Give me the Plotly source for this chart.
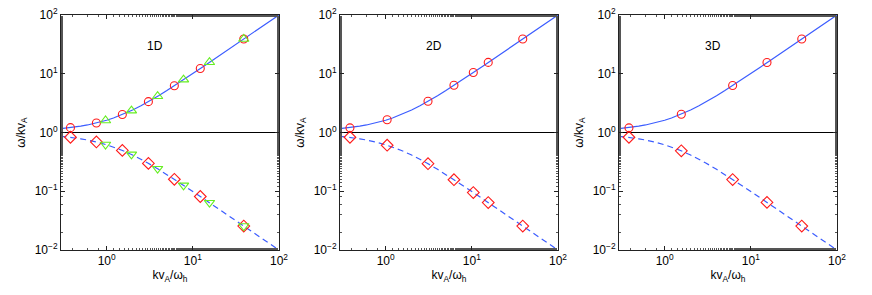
import plotly.graph_objects as go

# ---- data ----
line_x = [0.29, 0.35, 0.4, 0.5, 0.6, 0.7, 0.8, 1.0, 1.2, 1.5, 2, 2.5, 3, 4, 5, 6, 8, 10,
          13, 16, 20, 25, 30, 40, 50, 60, 80, 100]
line_upper = [1.156, 1.190, 1.220, 1.281, 1.344, 1.410, 1.477, 1.618, 1.766, 2.0, 2.414,
              2.851, 3.303, 4.236, 5.193, 6.162, 8.123, 10.10, 13.08, 16.06, 20.05, 25.04,
              30.03, 40.02, 50.02, 60.02, 80.01, 100.0]
line_lower = [0.865, 0.840, 0.820, 0.781, 0.744, 0.710, 0.677, 0.618, 0.566, 0.500, 0.414,
              0.351, 0.303, 0.236, 0.193, 0.162, 0.123, 0.0990, 0.0765, 0.0623, 0.0499,
              0.0399, 0.0333, 0.0250, 0.0200, 0.0167, 0.0125, 0.0100]

# 1D
d1_x = [0.38, 0.76, 1.52, 3.05, 6.1, 12.2, 39]
d1_up = [1.21, 1.45, 2.02, 3.35, 6.26, 12.3, 39.0]
d1_lo = [0.83, 0.69, 0.496, 0.298, 0.160, 0.0814, 0.0256]
t1_x = [0.97, 1.94, 3.9, 7.8, 15.6, 39]
t1_up = [1.60, 2.36, 4.14, 7.93, 15.7, 39.0]
t1_lo = [0.625, 0.424, 0.242, 0.126, 0.0639, 0.0256]

# 2D
d2_x = [0.385, 1.04, 3.1, 6.2, 10.4, 15.5, 39]
d2_up = [1.20, 1.65, 3.40, 6.36, 10.5, 15.6, 39.0]
d2_lo = [0.83, 0.607, 0.294, 0.157, 0.095, 0.0643, 0.0256]

# 3D
d3_x = [0.385, 1.56, 6.15, 15.4, 39]
d3_up = [1.20, 2.05, 6.31, 15.5, 39.0]
d3_lo = [0.83, 0.488, 0.158, 0.0646, 0.0256]

panel_labels = ["1D", "2D", "3D"]
x_tickvals = [1, 10, 100]
x_ticktext = ["10<sup>0</sup>", "10<sup>1</sup>", "10<sup>2</sup>"]
y_tickvals = [0.01, 0.1, 1, 10, 100]
y_ticktext = ["10<sup>−2</sup>", "10<sup>−1</sup>", "10<sup>0</sup>", "10<sup>1</sup>", "10<sup>2</sup>"]
x_min, x_max = 0.295, 100
ref_y = [1, 1]

BLUE = "#3b5cff"
RED = "#ff1a1a"
GREEN = "#66ee22"
FONT = "Liberation Sans, Arial, sans-serif"

W, H = 872, 295

fig = go.Figure()

panels = [
    (d1_x, d1_up, d1_lo, t1_x, t1_up, t1_lo),
    (d2_x, d2_up, d2_lo, None, None, None),
    (d3_x, d3_up, d3_lo, None, None, None),
]
domains = [[61/W, 279/W], [340/W, 558/W], [619/W, 837/W]]

for i, (cx, cu, cl, tx, tu, tl) in enumerate(panels):
    xa = "x" if i == 0 else f"x{i+1}"
    ya = "y" if i == 0 else f"y{i+1}"
    fig.add_trace(go.Scatter(x=[x_min, x_max], y=ref_y, mode="lines",
                             line=dict(color="black", width=1.2), xaxis=xa, yaxis=ya,
                             showlegend=False, hoverinfo="skip"))
    fig.add_trace(go.Scatter(x=line_x, y=line_upper, mode="lines",
                             line=dict(color=BLUE, width=1.2), xaxis=xa, yaxis=ya,
                             showlegend=False))
    fig.add_trace(go.Scatter(x=line_x, y=line_lower, mode="lines",
                             line=dict(color=BLUE, width=1.2, dash="6px,4px"),
                             xaxis=xa, yaxis=ya, showlegend=False))
    fig.add_trace(go.Scatter(x=cx, y=cu, mode="markers",
                             marker=dict(symbol="circle-open", size=8, color=RED,
                                         line=dict(width=1.1, color=RED)),
                             xaxis=xa, yaxis=ya, showlegend=False))
    fig.add_trace(go.Scatter(x=cx, y=cl, mode="markers",
                             marker=dict(symbol="diamond-open", size=9, color=RED,
                                         line=dict(width=1.1, color=RED)),
                             xaxis=xa, yaxis=ya, showlegend=False))
    if tx is not None:
        fig.add_trace(go.Scatter(x=tx, y=tu, mode="markers",
                                 marker=dict(symbol="triangle-up-open", size=9, color=GREEN,
                                             line=dict(width=1.1, color=GREEN)),
                                 xaxis=xa, yaxis=ya, showlegend=False))
        fig.add_trace(go.Scatter(x=tx, y=tl, mode="markers",
                                 marker=dict(symbol="triangle-down-open", size=9, color=GREEN,
                                             line=dict(width=1.1, color=GREEN)),
                                 xaxis=xa, yaxis=ya, showlegend=False))

    axis_common = dict(type="log", showgrid=False, zeroline=False, showline=True,
                       linecolor="#222", linewidth=1, mirror="allticks", ticks="inside",
                       ticklen=4, tickcolor="#222", automargin=False,
                       ticklabeloverflow="allow",
                       tickfont=dict(family=FONT, size=12, color="black"),
                       minor=dict(ticks="inside", ticklen=2, tickcolor="#555", showgrid=False))
    xkey = "xaxis" if i == 0 else f"xaxis{i+1}"
    ykey = "yaxis" if i == 0 else f"yaxis{i+1}"
    fig.update_layout(**{
        xkey: dict(axis_common, domain=domains[i], anchor=ya,
                   range=[-0.530, 2], tickmode="array", tickvals=x_tickvals,
                   ticktext=x_ticktext,
                   title=dict(text="kv<sub>A</sub>/ω<sub>h</sub>", standoff=2,
                              font=dict(family=FONT, size=12, color="black"))),
        ykey: dict(axis_common, domain=[0, 1], anchor=xa, range=[-2, 2],
                   tickmode="array", tickvals=y_tickvals, ticktext=y_ticktext,
                   title=dict(text="ω/kv<sub>A</sub>", standoff=6,
                              font=dict(family=FONT, size=12, color="black"))),
    })
    fig.add_annotation(x=0.56, y=1.473, xref=xa, yref=ya, text=panel_labels[i],
                       showarrow=False, font=dict(family=FONT, size=12, color="black"))

fig.update_layout(width=W, height=H, margin=dict(l=0, r=0, t=15, b=45),
                  paper_bgcolor="white", plot_bgcolor="white",
                  font=dict(family=FONT, size=12, color="black"))

fig.write_html("out.html", config={"displayModeBar": False},
               post_script="document.body.style.margin='0';document.body.style.overflow='hidden';")
